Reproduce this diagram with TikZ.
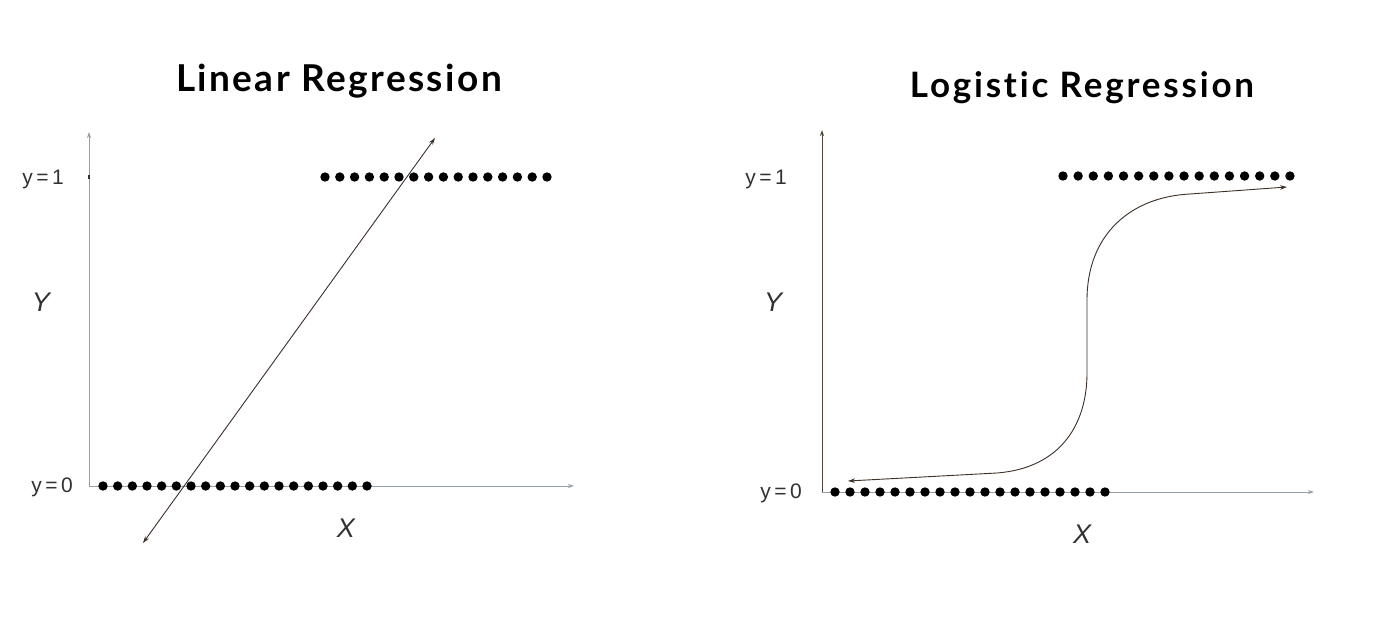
\documentclass[tikz,border=0pt]{standalone}
\usepackage{fontspec}
\setmainfont{Liberation Sans}
\newfontfamily\titlefontA{Lato}[LetterSpace=6.5,Ligatures=NoCommon]
\newfontfamily\titlefontB{Lato}[LetterSpace=8,Ligatures=NoCommon]
\usetikzlibrary{arrows.meta}
\definecolor{axisgray}{RGB}{150,160,168}
\definecolor{axisdark}{RGB}{80,70,60}
\definecolor{inkbrown}{RGB}{60,48,40}
\definecolor{labelgray}{RGB}{50,50,50}
\begin{document}
\begin{tikzpicture}[x=1pt,y=-1pt,
  axisline/.style={draw=axisgray, line width=1pt, -{Stealth[length=6pt,width=4pt]}},
  axislinedark/.style={draw=axisdark, line width=1pt, -{Stealth[length=6pt,width=4pt]}},
  fitline/.style={draw=inkbrown, line width=0.9pt, {Stealth[length=7pt,width=4.5pt]}-{Stealth[length=7pt,width=4.5pt]}},
  datadot/.style={circle, fill=black, inner sep=0pt, minimum size=9.4pt},
  titletext/.style={anchor=base, inner sep=0pt},
  ticklabel/.style={font=\fontsize{21}{24}\selectfont, text=labelgray, anchor=base, inner sep=0pt},
  axislabel/.style={font=\itshape\fontsize{27}{32}\selectfont, text=labelgray, anchor=base, inner sep=0pt}]
\fill[white] (0,0) rectangle (1398,620);
\useasboundingbox (0,0) rectangle (1398,620);

% ---------- Linear regression ----------
\node[titletext, font=\titlefontA\bfseries\fontsize{37}{42}\selectfont] (ltitle) at (339,92) {Linear Regression};
\coordinate (LO) at (89,486);
\coordinate (LYtop) at (89,132);
\coordinate (LXend) at (574,486);
\draw[axisline] (LO) -- (LYtop);
\draw[axisline] (LO) -- (LXend);
\draw[inkbrown, line width=1.2pt] (89,175) -- (89,179);
\node[ticklabel] (ly1) at (43,185) {y\,=\,1};
\node[ticklabel] (ly0) at (52,492) {y\,=\,0};
\node[axislabel] (lY) at (41,312) {Y};
\node[axislabel] (lX) at (346,537) {X};
\foreach \i in {0,...,18} \node[datadot] (lzero\i) at ({103+\i*14.667},486) {};
\foreach \i in {0,...,15} \node[datadot] (lone\i) at ({325+\i*14.8},177) {};
\coordinate (LA) at (143,543);
\coordinate (LB) at (435,138);
\draw[fitline] (LA) -- (LB);

% ---------- Logistic regression ----------
\node[titletext, font=\titlefontB\bfseries\fontsize{35}{40}\selectfont] (rtitle) at (1082,98) {Logistic Regression};
\coordinate (RO) at (822,492);
\coordinate (RYtop) at (822,130);
\coordinate (RXend) at (1314,492);
\draw[axislinedark] (RO) -- (RYtop);
\draw[axisline] (RO) -- (RXend);
\node[ticklabel] (ry1) at (766,185) {y\,=\,1};
\node[ticklabel] (ry0) at (781,498) {y\,=\,0};
\node[axislabel] (rY) at (773,312) {Y};
\node[axislabel] (rX) at (1082,543) {X};
\foreach \i in {0,...,18} \node[datadot] (rzero\i) at ({835+\i*15.0},492) {};
\foreach \i in {0,...,15} \node[datadot] (rone\i) at ({1063+\i*15.13},176) {};
\coordinate (C0) at (848,481);
\coordinate (C1) at (997,473);
\coordinate (C2) at (1087,373);
\coordinate (C3) at (1087,300);
\coordinate (C4) at (1190,194);
\coordinate (C5) at (1287,187);
\draw[fitline] (C0) -- (C1) .. controls (1060,468) and (1087,425) .. (C2)
  -- (C3) .. controls (1087,235) and (1130,197) .. (C4) -- (C5);
\end{tikzpicture}
\end{document}
